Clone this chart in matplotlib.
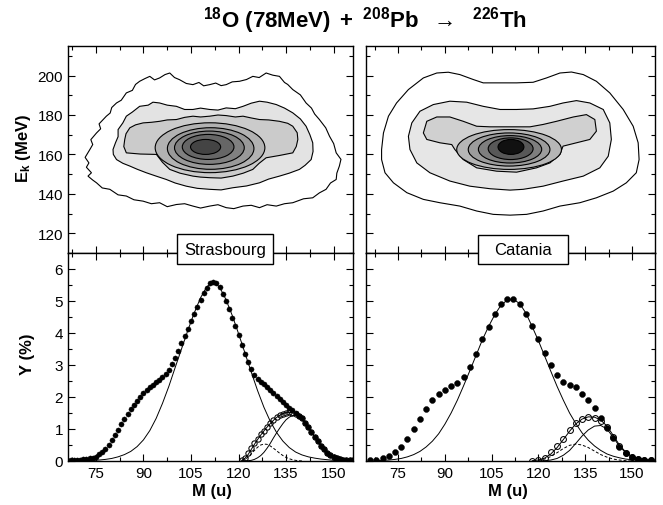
import matplotlib
matplotlib.use("Agg")
import matplotlib.pyplot as plt
import numpy as np
from matplotlib.patches import Ellipse, Rectangle
from matplotlib.ticker import MultipleLocator

plt.rcParams['font.family'] = ['Liberation Sans', 'DejaVu Sans']
plt.rcParams['mathtext.fontset'] = 'custom'
plt.rcParams['mathtext.rm'] = 'Liberation Sans'
plt.rcParams['mathtext.bf'] = 'Liberation Sans:bold'
plt.rcParams['mathtext.it'] = 'Liberation Sans:italic'

# ---------------- Strasbourg mass yields (1 u steps) ----------------
s_mass = np.arange(66, 158)
s_yield = [0.02, 0.02, 0.03, 0.03, 0.04, 0.05, 0.06, 0.08, 0.10, 0.14,
           0.21, 0.29, 0.39, 0.51, 0.66, 0.82, 0.98, 1.15, 1.32, 1.47,
           1.61, 1.75, 1.89, 2.01, 2.12, 2.21, 2.30, 2.38, 2.46, 2.53,
           2.61, 2.71, 2.84, 3.03, 3.23, 3.45, 3.69, 3.92, 4.14, 4.37,
           4.60, 4.82, 5.04, 5.24, 5.42, 5.55, 5.59, 5.56, 5.43, 5.22,
           4.99, 4.74, 4.48, 4.22, 3.93, 3.62, 3.35, 3.10, 2.88, 2.70,
           2.57, 2.48, 2.40, 2.31, 2.22, 2.13, 2.04, 1.94, 1.84, 1.74,
           1.65, 1.58, 1.50, 1.42, 1.33, 1.20, 1.05, 0.90, 0.75, 0.61,
           0.47, 0.36, 0.26, 0.19, 0.13, 0.09, 0.06, 0.04, 0.03, 0.02,
           0.02, 0.01]
s_open_mass = np.arange(121, 158)
s_open = [0.04, 0.10, 0.25, 0.42, 0.56, 0.70, 0.83, 0.95, 1.07, 1.18,
          1.28, 1.36, 1.43, 1.48, 1.51, 1.52, 1.51, 1.47, 1.41, 1.33,
          1.20, 1.05, 0.90, 0.75, 0.61, 0.47, 0.36, 0.26, 0.19, 0.13,
          0.09, 0.06, 0.04, 0.03, 0.02, 0.02, 0.01]
s_fit_mass = np.arange(70, 156, 2)
s_fit_main = [0.01, 0.01, 0.02, 0.03, 0.05, 0.08, 0.13, 0.20, 0.30, 0.45,
              0.66, 0.95, 1.33, 1.80, 2.33, 2.92, 3.50, 4.08, 4.62, 5.10,
              5.45, 5.58, 5.44, 5.05, 4.55, 3.98, 3.38, 2.78, 2.20, 1.68,
              1.24, 0.89, 0.62, 0.42, 0.28, 0.19, 0.13, 0.09, 0.06, 0.04,
              0.02, 0.01, 0.01]
s_comp_mass = np.arange(121, 158)
s_comp_right = [0.00, 0.00, 0.01, 0.02, 0.05, 0.10, 0.17, 0.27, 0.40, 0.55,
                0.72, 0.88, 1.03, 1.17, 1.29, 1.37, 1.42, 1.43, 1.39, 1.31,
                1.19, 1.05, 0.90, 0.75, 0.60, 0.47, 0.36, 0.26, 0.19, 0.13,
                0.09, 0.06, 0.04, 0.03, 0.02, 0.01, 0.01]
s_comp_sum = [0.02, 0.08, 0.20, 0.36, 0.52, 0.67, 0.81, 0.94, 1.06, 1.17,
              1.27, 1.36, 1.43, 1.48, 1.51, 1.52, 1.51, 1.47, 1.41, 1.32,
              1.20, 1.06, 0.91, 0.76, 0.61, 0.48, 0.36, 0.27, 0.19, 0.13,
              0.09, 0.06, 0.04, 0.03, 0.02, 0.01, 0.01]
s_dash_mass = np.arange(121, 141)
s_comp_dash = [0.01, 0.05, 0.12, 0.22, 0.33, 0.43, 0.50, 0.53, 0.52, 0.47,
               0.40, 0.32, 0.24, 0.17, 0.11, 0.07, 0.04, 0.02, 0.01, 0.00]

# ---------------- Catania mass yields (2 u steps) ----------------
c_mass = np.arange(66, 158, 2)
c_yield = [0.03, 0.04, 0.08, 0.15, 0.27, 0.44, 0.68, 1.00, 1.32, 1.63,
           1.90, 2.08, 2.23, 2.35, 2.45, 2.63, 2.95, 3.34, 3.81, 4.20,
           4.58, 4.90, 5.05, 5.06, 4.90, 4.60, 4.22, 3.80, 3.38, 3.00,
           2.68, 2.48, 2.38, 2.30, 2.10, 1.90, 1.65, 1.35, 1.02, 0.72,
           0.44, 0.24, 0.11, 0.06, 0.04, 0.02]
c_open_mass = np.arange(118, 158, 2)
c_open = [0.01, 0.04, 0.10, 0.27, 0.47, 0.70, 0.98, 1.20, 1.32, 1.37,
          1.35, 1.25, 1.05, 0.75, 0.46, 0.25, 0.13, 0.07, 0.04, 0.02]
c_fit_mass = np.arange(68, 158, 2)
c_fit_main = [0.01, 0.02, 0.03, 0.05, 0.08, 0.13, 0.20, 0.30, 0.44, 0.62,
              0.85, 1.15, 1.50, 1.90, 2.35, 2.82, 3.30, 3.78, 4.20, 4.57,
              4.87, 5.03, 5.05, 4.92, 4.62, 4.20, 3.76, 3.28, 2.80, 2.33,
              1.90, 1.50, 1.17, 0.88, 0.65, 0.47, 0.33, 0.22, 0.15, 0.10,
              0.06, 0.04, 0.02, 0.01, 0.01]
c_comp_mass = np.arange(120, 158, 2)
c_comp_right = [0.00, 0.01, 0.03, 0.08, 0.18, 0.33, 0.55, 0.78, 0.97, 1.09,
                1.11, 1.00, 0.74, 0.46, 0.26, 0.14, 0.07, 0.04, 0.02]
c_sum_mass = np.arange(118, 158, 2)
c_comp_sum = [0.01, 0.03, 0.09, 0.22, 0.42, 0.67, 0.93, 1.16, 1.31, 1.38,
              1.37, 1.28, 1.09, 0.80, 0.50, 0.28, 0.14, 0.07, 0.04, 0.02]
c_dash_mass = np.arange(120, 152, 2)
c_comp_dash = [0.02, 0.06, 0.14, 0.26, 0.39, 0.49, 0.53, 0.50, 0.42, 0.31,
               0.20, 0.12, 0.06, 0.03, 0.01, 0.00]

# ---------------- Contour iso-lines (M [u], Ek [MeV]) ----------------
S_L1 = [(73.6,150.7),(72.0,153.5),(72.8,155.7),(71.6,158.5),(73.1,162.5),(74.0,165.0),(73.4,167.5),
        (75.2,170.9),(76.5,173.0),(76.0,175.5),(78.3,179.4),(79.5,181.0),(80.0,183.8),(81.5,186.1),
        (83.0,187.5),(84.6,191.2),(86.5,192.5),(87.5,195.5),(88.8,197.1),(90.5,198.5),(92.0,199.6),
        (93.5,197.8),(95.1,198.8),(96.8,200.5),(98.3,201.3),(99.8,199.0),(101.4,197.9),(103.5,196.0),
        (105.6,195.4),(107.5,196.5),(109.0,194.8),(110.9,195.4),(112.8,196.2),(114.5,194.9),(116.1,195.4),
        (118.0,196.8),(120.3,197.1),(122.5,198.0),(124.5,199.6),(126.5,199.0),(128.7,201.3),(130.8,200.2),
        (132.9,199.6),(134.5,196.5),(135.5,195.5),(137.1,192.9),(139.5,190.2),(141.3,186.1),(143.0,183.5),
        (144.0,180.5),(145.5,177.7),(147.5,173.5),(148.7,169.2),(150.0,165.5),(150.8,160.8),(152.3,157.5),
        (151.8,154.1),(151.0,150.5),(150.8,147.3),(149.0,145.5),(147.6,142.3),(145.5,140.5),(143.4,138.0),
        (140.5,137.5),(137.1,135.5),(134.5,135.0),(131.9,133.8),(129.0,134.5),(126.6,133.0),(124.0,134.2),
        (121.4,133.8),(118.5,132.5),(116.1,133.0),(113.5,134.5),(110.9,133.8),(108.0,132.8),(105.6,133.8),
        (103.0,135.0),(100.4,134.6),(97.5,133.5),(95.1,135.5),(92.5,135.0),(89.9,136.3),(87.0,137.0),
        (84.6,138.9),(82.0,139.5),(79.4,142.3),(77.0,143.0),(75.2,145.6),(74.0,147.0),(72.5,149.0)]
S_L2 = [(80.4,162.5),(81.2,166.0),(82.0,169.0),(82.0,172.6),(83.5,176.0),(84.6,179.4),(86.5,181.5),
        (88.8,184.4),(91.5,185.0),(93.0,186.5),(95.1,186.1),(97.5,185.0),(100.4,184.4),(103.0,182.8),
        (105.6,182.8),(108.0,183.5),(110.9,182.8),(113.5,182.5),(116.1,183.6),(119.0,183.2),(121.4,184.4),
        (124.0,186.0),(126.6,187.0),(129.0,186.5),(131.9,185.3),(134.5,183.5),(137.1,181.1),(139.5,178.0),
        (141.3,174.3),(142.5,170.0),(143.4,165.9),(143.5,161.5),(142.9,157.4),(141.0,154.5),(139.2,152.4),
        (136.0,150.5),(132.9,149.0),(129.5,147.5),(126.6,145.6),(122.5,144.0),(118.2,143.1),(114.5,142.0),
        (110.9,142.3),(107.0,142.8),(103.5,143.9),(100.0,145.5),(97.2,147.3),(94.0,149.0),(90.9,150.7),
        (88.0,152.5),(85.7,154.1),(83.5,155.5),(81.5,157.4),(80.5,160.0)]
S_L3 = [(84.1,167.6),(84.5,170.5),(85.7,173.5),(87.5,175.0),(89.9,176.0),(92.5,176.3),(95.1,176.8),
        (97.5,177.5),(100.4,177.7),(103.0,178.8),(105.6,179.4),(108.0,179.0),(110.9,179.4),(113.5,180.0),
        (116.1,179.7),(119.0,179.0),(121.4,179.4),(124.0,178.5),(126.6,177.7),(129.5,177.5),(132.9,176.8),
        (135.5,175.8),(137.1,174.3),(138.5,171.0),(138.7,167.6),(138.2,164.0),(137.1,160.8),(133.0,159.5),
        (128.7,158.3),(126.5,155.5),(124.5,152.4),(121.5,150.5),(118.2,149.0),(114.5,148.0),(110.9,148.2),
        (108.0,148.5),(105.6,149.0),(101.5,150.5),(98.3,152.4),(96.0,156.0),(94.1,160.0),(89.0,160.2),
        (84.6,160.8),(83.8,164.0)]
S_ell_M = [111.0, 111.2, 110.8, 110.4, 109.6]
S_ell_E = [163.4, 163.0, 163.4, 163.8, 163.8]
S_ell_w = [34.6, 27.3, 22.0, 16.3, 9.5]
S_ell_h = [25.3, 21.1, 16.9, 12.7, 7.6]

C_L1 = [(69.7,162.5),(70.3,170.9),(71.9,179.4),(74.5,186.1),(78.3,192.9),(83.1,198.8),(87.4,201.3),
        (91.1,201.7),(94.8,200.5),(99.1,198.0),(102.3,196.3),(107.7,196.3),(113.0,196.3),(118.3,196.6),
        (122.6,198.8),(126.9,201.3),(130.6,201.8),(134.4,200.5),(138.6,197.1),(142.9,191.2),(147.2,182.8),
        (150.4,174.3),(152.0,165.9),(152.3,157.4),(151.4,150.7),(148.2,145.6),(144.0,141.4),(138.6,138.0),
        (133.3,135.5),(126.9,133.8),(121.5,131.3),(116.2,129.6),(110.9,129.2),(105.5,129.6),(100.2,131.3),
        (94.8,133.8),(88.4,135.5),(83.1,137.2),(77.8,140.6),(73.5,145.6),(70.8,150.7),(69.7,157.4)]
C_L2 = [(78.3,169.2),(79.4,176.0),(82.0,181.9),(86.3,185.3),(91.6,187.0),(97.0,186.5),(102.3,184.4),
        (107.7,182.8),(113.0,182.8),(118.3,183.1),(123.7,184.4),(127.9,186.1),(132.2,187.3),(136.5,186.1),
        (140.8,182.8),(142.9,176.0),(143.4,167.6),(142.4,159.1),(139.7,153.2),(134.4,149.0),(127.9,146.5),
        (121.5,143.9),(115.1,142.3),(110.9,141.9),(104.5,142.6),(98.0,143.9),(91.6,146.5),(85.2,150.7),
        (81.0,155.7),(78.8,162.5)]
C_L3 = [(83.1,170.9),(84.2,176.8),(87.4,179.0),(91.6,179.0),(95.9,176.8),(100.2,174.3),(104.5,174.0),
        (110.9,174.0),(117.3,174.0),(121.5,175.2),(125.8,176.8),(131.2,179.0),(135.4,180.2),(138.1,177.7),
        (138.6,171.8),(136.5,167.6),(132.2,165.9),(127.9,164.2),(126.9,160.0),(123.7,155.7),(119.4,153.2),
        (113.0,151.0),(106.6,151.5),(100.2,153.2),(95.9,157.4),(93.2,162.5),(92.2,165.0),(88.4,165.9),
        (84.2,167.6)]
C_ell_M = [110.6, 110.6, 110.9, 111.1, 111.2]
C_ell_E = [162.5, 162.5, 162.6, 162.9, 163.8]
C_ell_w = [33.6, 26.2, 20.3, 14.4, 8.3]
C_ell_h = [20.2, 16.8, 13.9, 11.0, 7.6]

S_colors = ['white', '#e3e3e3', '#cbcbcb', '#b2b2b2', '#999999', '#808080', '#666666', '#444444']
C_colors = ['white', '#e6e6e6', '#d0d0d0', '#b6b6b6', '#9c9c9c', '#7e7e7e', '#585858', '#111111']

fig = plt.figure(figsize=(6.63, 5.06), dpi=100)

xl = 68 / 663; wl = 285 / 663
xr = 366 / 663; wr = 289 / 663
yb = 1 - 462 / 506; hb = 208 / 506
yt = 1 - 254 / 506; ht = 207 / 506

ax_tl = fig.add_axes([xl, yt, wl, ht])
ax_tr = fig.add_axes([xr, yt, wr, ht])
ax_bl = fig.add_axes([xl, yb, wl, hb])
ax_br = fig.add_axes([xr, yb, wr, hb])


def draw_contours(ax, polys, eM, eE, ew, eh, colors):
    for poly, col in zip(polys, colors[:3]):
        m = [p[0] for p in poly]
        e = [p[1] for p in poly]
        ax.fill(m, e, facecolor=col, edgecolor='black', lw=0.8, zorder=2)
    for i in range(len(eM)):
        ax.add_patch(Ellipse((eM[i], eE[i]), ew[i], eh[i], facecolor=colors[3 + i],
                             edgecolor='black', lw=0.8, zorder=3))


draw_contours(ax_tl, [S_L1, S_L2, S_L3], S_ell_M, S_ell_E, S_ell_w, S_ell_h, S_colors)
draw_contours(ax_tr, [C_L1, C_L2, C_L3], C_ell_M, C_ell_E, C_ell_w, C_ell_h, C_colors)

# bottom panels
lw_fit = 0.7
ax_bl.plot(s_fit_mass, s_fit_main, color='black', lw=lw_fit, zorder=2)
ax_bl.plot(s_comp_mass, s_comp_right, color='black', lw=lw_fit, zorder=2)
ax_bl.plot(s_comp_mass, s_comp_sum, color='black', lw=lw_fit, zorder=2)
ax_bl.plot(s_dash_mass, s_comp_dash, color='black', lw=lw_fit, ls=(0, (3, 2)), zorder=2)
ax_bl.plot(s_open_mass, s_open, 'o', ms=3.8, mfc='none', mec='black', mew=0.75, zorder=3)
ax_bl.plot(s_mass, s_yield, 'o', ms=3.7, color='black', mec='black', mew=0.3, zorder=4)

ax_br.plot(c_fit_mass, c_fit_main, color='black', lw=lw_fit, zorder=2)
ax_br.plot(c_comp_mass, c_comp_right, color='black', lw=lw_fit, zorder=2)
ax_br.plot(c_sum_mass, c_comp_sum, color='black', lw=lw_fit, zorder=2)
ax_br.plot(c_dash_mass, c_comp_dash, color='black', lw=lw_fit, ls=(0, (3, 2)), zorder=2)
ax_br.plot(c_open_mass, c_open, 'o', ms=4.2, mfc='none', mec='black', mew=0.75, zorder=3)
ax_br.plot(c_mass, c_yield, 'o', ms=4.3, color='black', mec='black', mew=0.3, zorder=4)

for ax, xlim in [(ax_tl, (66.2, 156.1)), (ax_bl, (66.2, 156.1)),
                 (ax_tr, (64.7, 157.4)), (ax_br, (64.7, 157.4))]:
    ax.set_xlim(*xlim)
    ax.xaxis.set_major_locator(MultipleLocator(15))
    ax.xaxis.set_minor_locator(MultipleLocator(7.5))
    ax.tick_params(which='both', direction='in', top=True, right=True, labelsize=11, width=0.8)
    ax.tick_params(which='major', length=5)
    ax.tick_params(which='minor', length=3)
    for sp in ax.spines.values():
        sp.set_linewidth(1.0)

for ax in (ax_tl, ax_tr):
    ax.set_ylim(110, 215)
    ax.yaxis.set_major_locator(MultipleLocator(20))
    ax.yaxis.set_minor_locator(MultipleLocator(10))
    ax.tick_params(labelbottom=False)
for ax in (ax_bl, ax_br):
    ax.set_ylim(0, 6.5)
    ax.yaxis.set_major_locator(MultipleLocator(1))
    ax.yaxis.set_minor_locator(MultipleLocator(0.5))
for ax in (ax_tr, ax_br):
    ax.tick_params(labelleft=False)

# labels
fig.text(0.036, 0.707, r'$\mathbf{E_k}$ (MeV)', rotation=90, ha='center', va='center',
         fontsize=12, fontweight='bold')
fig.text(0.042, 0.30, 'Y (%)', rotation=90, ha='center', va='center', fontsize=12, fontweight='bold')
fig.text(212 / 663, 1 - 492 / 506, 'M (u)', ha='center', va='center', fontsize=12, fontweight='bold')
fig.text(508 / 663, 1 - 492 / 506, 'M (u)', ha='center', va='center', fontsize=12, fontweight='bold')

fig.text(365 / 663, 1 - 21 / 506,
         r'$\mathbf{^{18}O\ (78MeV)\ +\ ^{208}Pb\ \ \rightarrow\ \ ^{226}Th}$',
         ha='center', va='center', fontsize=16)

# site boxes
for (x0, x1, y0, y1, name) in [(177, 273, 235, 265, 'Strasbourg'), (478, 568, 236, 265, 'Catania')]:
    fig.add_artist(Rectangle((x0 / 663, 1 - y1 / 506), (x1 - x0) / 663, (y1 - y0) / 506,
                             transform=fig.transFigure, facecolor='white', edgecolor='black',
                             lw=1.0, zorder=10))
    fig.text((x0 + x1) / 2 / 663, 1 - (y0 + y1) / 2 / 506, name, ha='center', va='center',
             fontsize=12, zorder=11)

fig.savefig('out.png', dpi=100)
